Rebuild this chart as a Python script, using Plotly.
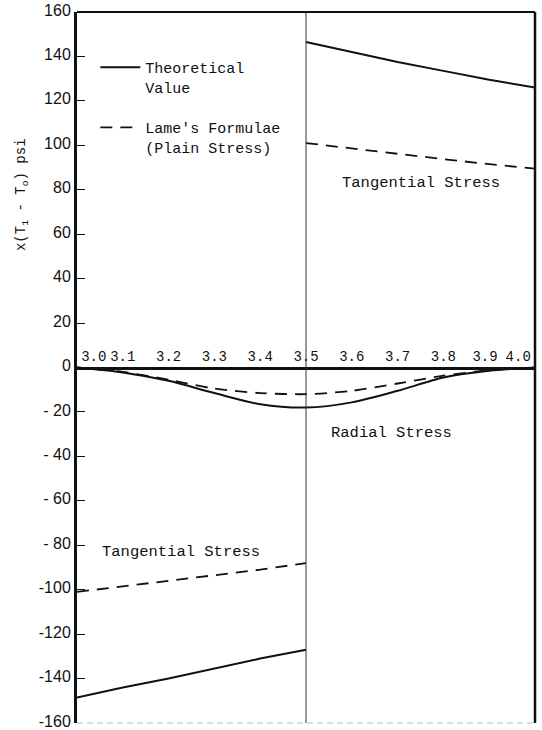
import plotly.graph_objects as go

# Radius positions (in) and stress values, x(T1 - To) psi
r_all = [3.0, 3.1, 3.2, 3.3, 3.4, 3.5, 3.6, 3.7, 3.8, 3.9, 4.0]
r_inner = [3.0, 3.1, 3.2, 3.3, 3.4, 3.5]
r_outer = [3.5, 3.6, 3.7, 3.8, 3.9, 4.0]

radial_theory = [0, -2.2, -6, -11.5, -16.5, -18, -15.7, -10.5, -4.5, -1.5, 0]
radial_lame = [0, -2, -5.5, -9.5, -11.5, -12, -10.5, -7.2, -3.7, -1.2, 0]

tang_outer_theory = [146.5, 142, 137.5, 133.5, 129.5, 126]
tang_outer_lame = [101, 98.5, 96, 93.8, 91.5, 89.5]

tang_inner_theory = [-148.5, -144, -140, -135.5, -131, -127]
tang_inner_lame = [-101, -98.5, -96, -93.5, -91, -88]

NB = "\u00a0"
x_ticks = [3.0, 3.1, 3.2, 3.3, 3.4, 3.5, 3.6, 3.7, 3.8, 3.9, 4.0]
# end labels are nudged inward so they clear the frame
x_ticktext = [NB * 4 + "3.0", "3.1", "3.2", "3.3", "3.4", "3.5", "3.6", "3.7", "3.8",
              "3.9" + NB, "4.0" + NB * 4]
y_ticks = [160, 140, 120, 100, 80, 60, 40, 20, 0, -20, -40, -60, -80, -100, -120, -140, -160]
y_ticktext = ["160", "140", "120", "100", "80", "60", "40", "20", "0",
              "- 20", "- 40", "- 60", "- 80", "-100", "-120", "-140", "-160"]

INK = "#111111"
MONO = "Liberation Mono"
SOLID = dict(color=INK, width=2)
DASHED = dict(color=INK, width=1.8, dash="12px,8px")

fig = go.Figure()

# Theoretical values (solid)
fig.add_trace(go.Scatter(x=r_outer, y=tang_outer_theory, mode="lines", line=SOLID,
                         name="Theoretical<br>Value", legendgroup="theory", showlegend=True))
fig.add_trace(go.Scatter(x=r_inner, y=tang_inner_theory, mode="lines", line=SOLID,
                         legendgroup="theory", showlegend=False))
fig.add_trace(go.Scatter(x=r_all, y=radial_theory, mode="lines",
                         line=dict(SOLID, shape="spline", smoothing=0.8),
                         legendgroup="theory", showlegend=False))

# Lame's formulae, plain stress (dashed)
fig.add_trace(go.Scatter(x=r_outer, y=tang_outer_lame, mode="lines", line=DASHED,
                         name="Lame's Formulae<br>(Plain Stress)", legendgroup="lame", showlegend=True))
fig.add_trace(go.Scatter(x=r_inner, y=tang_inner_lame, mode="lines", line=DASHED,
                         legendgroup="lame", showlegend=False))
fig.add_trace(go.Scatter(x=r_all, y=radial_lame, mode="lines",
                         line=dict(DASHED, shape="spline", smoothing=0.8),
                         legendgroup="lame", showlegend=False))

# Interface between inner and outer cylinders
fig.add_vline(x=3.5, line=dict(color="#333333", width=1))

# Frame: top and right borders, faint bottom edge
fig.add_shape(type="line", xref="paper", yref="paper", x0=0, x1=1, y0=1, y1=1,
              line=dict(color=INK, width=2))
fig.add_shape(type="line", xref="paper", yref="paper", x0=1, x1=1, y0=0, y1=1,
              line=dict(color=INK, width=2.5))
fig.add_shape(type="line", xref="paper", yref="paper", x0=0, x1=1, y0=0, y1=0,
              line=dict(color="#bbbbbb", width=1, dash="6px,4px"))

# Region labels
labels = [
    dict(x=3.75, y=83, text="Tangential Stress"),
    dict(x=3.687, y=-29.5, text="Radial Stress"),
    dict(x=3.228, y=-83, text="Tangential Stress"),
]
for lab in labels:
    fig.add_annotation(x=lab["x"], y=lab["y"], text=lab["text"], showarrow=False,
                       font=dict(family=MONO, size=15.5, color=INK))

# Vertical axis title
fig.add_annotation(xref="paper", yref="paper", x=-0.12, y=(723 - 195) / 711,
                   text="x(T<sub>1</sub> - T<sub>o</sub>) psi", textangle=-90,
                   showarrow=False, xanchor="center", yanchor="middle",
                   font=dict(family=MONO, size=14, color=INK))

fig.update_layout(
    width=542, height=730,
    margin=dict(l=77, r=7, t=12, b=7, autoexpand=False),
    paper_bgcolor="white", plot_bgcolor="white",
    showlegend=True,
    legend=dict(x=0.04, y=0.945, xanchor="left", yanchor="top",
                font=dict(family=MONO, size=15, color=INK),
                bgcolor="rgba(0,0,0,0)", valign="top", tracegroupgap=18,
                itemwidth=40),
    xaxis=dict(range=[3.0, 4.0], anchor="free", position=0.5, side="top",
               tickvals=x_ticks, ticktext=x_ticktext, ticks="", tickangle=0,
               tickfont=dict(family=MONO, size=14, color=INK),
               ticklabeloverflow="allow", automargin=False,
               showline=True, linecolor=INK, linewidth=3,
               showgrid=False, zeroline=False),
    yaxis=dict(range=[-160, 160], tickvals=y_ticks, ticktext=y_ticktext,
               ticks="inside", ticklen=8, tickcolor=INK, tickwidth=1,
               tickfont=dict(family="Liberation Sans", size=16, color=INK),
               ticklabeloverflow="allow", automargin=False, ticklabelshift=-2,
               showline=True, linecolor=INK, linewidth=3,
               showgrid=False, zeroline=False),
)

fig.write_html("out.html")
